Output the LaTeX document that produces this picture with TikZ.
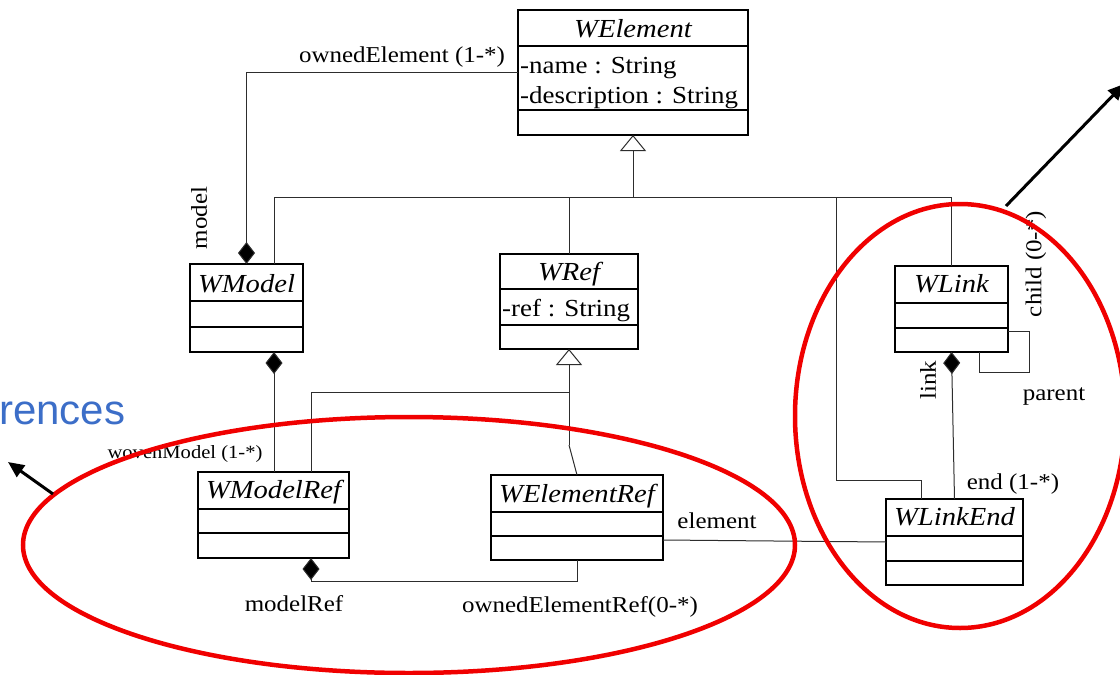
\documentclass[tikz,border=0pt]{standalone}
\usepackage{fontspec}
\setmainfont{Liberation Serif}[FakeStretch=1.1]
\newfontfamily\refsans{Liberation Sans}
\usetikzlibrary{arrows.meta,calc}
\definecolor{refblue}{RGB}{60,110,200}
\definecolor{hilite}{RGB}{240,0,0}
\definecolor{connc}{RGB}{45,45,45}
\newcommand\titlef{\fontsize{26}{28}\selectfont\itshape}
\newcommand\attrf{\fontsize{24.5}{26}\selectfont}
\newcommand\lblf{\fontsize{22.7}{24}\selectfont}
\newcommand\smlf{\fontsize{18.7}{20}\selectfont}
\newcommand\umlbox[7]{%
  \node[cls, minimum width={(#4-#2)*1pt}, minimum height={(#5-#3)*1pt}] (#1) at ({(#2+#4)/2},{(#3+#5)/2}) {};
  \draw[sepline] (#2,#6) -- (#4,#6);
  \draw[sepline] (#2,#7) -- (#4,#7);
}
\tikzset{
  cls/.style={draw=black, line width=1.4pt, inner sep=0pt, outer sep=0pt},
  sepline/.style={draw=black, line width=1.4pt},
  ttl/.style={font=\titlef, inner sep=0pt, anchor=base},
  attrib/.style={font=\attrf, inner sep=0pt, anchor=base west},
  lbl/.style={font=\lblf, inner sep=0pt, anchor=base},
  conn/.style={draw=connc, line width=1pt},
  comp/.style={conn, {Diamond[length=22pt,width=17pt,fill=black]}-},
  gen/.style={conn, -{Triangle[open,length=16pt,width=26pt,fill=white,line width=1pt]}},
  oval/.style={draw=hilite, line width=4.5pt},
  bigarrow/.style={draw=black, line width=3pt, -{Triangle[length=16pt,width=14pt]}}
}
\begin{document}
\begin{tikzpicture}[x=1pt,y=-1pt]
\useasboundingbox (0,0) rectangle (1120,675);
\clip (0,0) rectangle (1120,675);
\fill[white] (0,0) rectangle (1120,675);

% classes
\umlbox{WElement}{518}{10}{748}{135}{46}{110}
\node[ttl] (WElement-t) at (633,37) {WElement};
\node[attrib] (WElement-a1) at (520,73) {-name : String};
\node[attrib] (WElement-a2) at (520,103) {-description : String};

\umlbox{WModel}{190}{264}{303}{352}{301}{327}
\node[ttl] (WModel-t) at (246.5,292) {WModel};

\umlbox{WRef}{500}{254}{638}{349}{289}{325}
\node[ttl] (WRef-t) at (569,280) {WRef};
\node[attrib] (WRef-a1) at (502,316) {-ref : String};

\umlbox{WLink}{895}{266}{1008}{352}{303}{328}
\node[ttl] (WLink-t) at (951.5,292) {WLink};

\umlbox{WModelRef}{198}{472}{349}{558}{509}{533}
\node[ttl] (WModelRef-t) at (273.5,498) {WModelRef};

\umlbox{WElementRef}{491}{475}{663}{560}{512}{536}
\node[ttl] (WElementRef-t) at (577,502) {WElementRef};

\umlbox{WLinkEnd}{886}{499}{1023}{585}{536}{561}
\node[ttl] (WLinkEnd-t) at (954.5,525) {WLinkEnd};

% generalization to WElement
\coordinate (hub) at (633,197);
\coordinate (b1) at (274,197);
\coordinate (b2) at (569,197);
\coordinate (b3) at (836,197);
\coordinate (b4) at (951.5,197);
\coordinate (b3e) at (836,480);
\coordinate (le) at (921,480);
\draw[gen] (hub) -- (WElement.south);
\draw[conn] (b1 |- WModel.north) -- (b1) -- (b4) -- (WLink.north);
\draw[conn] (b2) -- (WRef.north);
\draw[conn] (b3) -- (b3e) -- (le) -- (le |- WLinkEnd.north);

% generalization to WRef
\coordinate (h2) at (569,392);
\coordinate (k2) at (569,445);
\coordinate (m2) at (311,392);
\draw[gen] (k2) -- (WRef.south);
\draw[conn] (m2 |- WModelRef.north) -- (m2) -- (h2);
\draw[conn] (k2) -- (WElementRef.north);

% compositions
\coordinate (oe) at (246.5,72);
\draw[comp] (WModel.north) -- (oe) -- (oe -| WElement.west);
\draw[comp] (b1 |- WModel.south) -- (b1 |- WModelRef.north);
\coordinate (mr) at (311,581);
\draw[comp] (mr |- WModelRef.south) -- (mr) -| (WElementRef.south);
\draw[comp] (WLink.south) -- (WLinkEnd.north);

% association element
\draw[conn] ($(WElementRef.south east)+(0,-20)$) -- (WLinkEnd.west);

% self association
\coordinate (s1) at (1029,331);
\coordinate (s2) at (979,372);
\draw[conn] (WLink.east |- s1) -- (s1) |- (s2) -- (s2 |- WLink.south);

% labels
\node[lbl] (l-owned) at (402,62) {ownedElement (1-*)};
\node[lbl, anchor=center, rotate=90] (l-model) at (199,218) {model};
\node[font=\smlf, inner sep=0pt, anchor=base] (l-woven) at (185,458) {wovenModel (1-*)};
\node[lbl] (l-modelref) at (294,611) {modelRef};
\node[lbl] (l-oer) at (580,612) {ownedElementRef(0-*)};
\node[lbl] (l-element) at (717,528) {element};
\node[lbl, anchor=center, rotate=90] (l-child) at (1036,264) {child (0-*)};
\node[lbl] (l-parent) at (1054,400) {parent};
\node[lbl, anchor=center, rotate=90] (l-link) at (928,380) {link};
\node[lbl] (l-end) at (1013,489) {end (1-*)};

% overlay
\node[font=\refsans\fontsize{42}{42}\selectfont, text=refblue, inner sep=0pt, anchor=base west] (rences) at (-1,424) {rences};
\draw[oval] (409,545) ellipse [x radius=386, y radius=128];
\draw[oval] (960,416) ellipse [x radius=165, y radius=212];
\coordinate (a1s) at (1006,206);
\coordinate (a1e) at (1124,84);
\coordinate (a2s) at (53,494);
\coordinate (a2e) at (8,462);
\draw[bigarrow] (a1s) -- (a1e);
\draw[bigarrow] (a2s) -- (a2e);
\end{tikzpicture}
\end{document}
